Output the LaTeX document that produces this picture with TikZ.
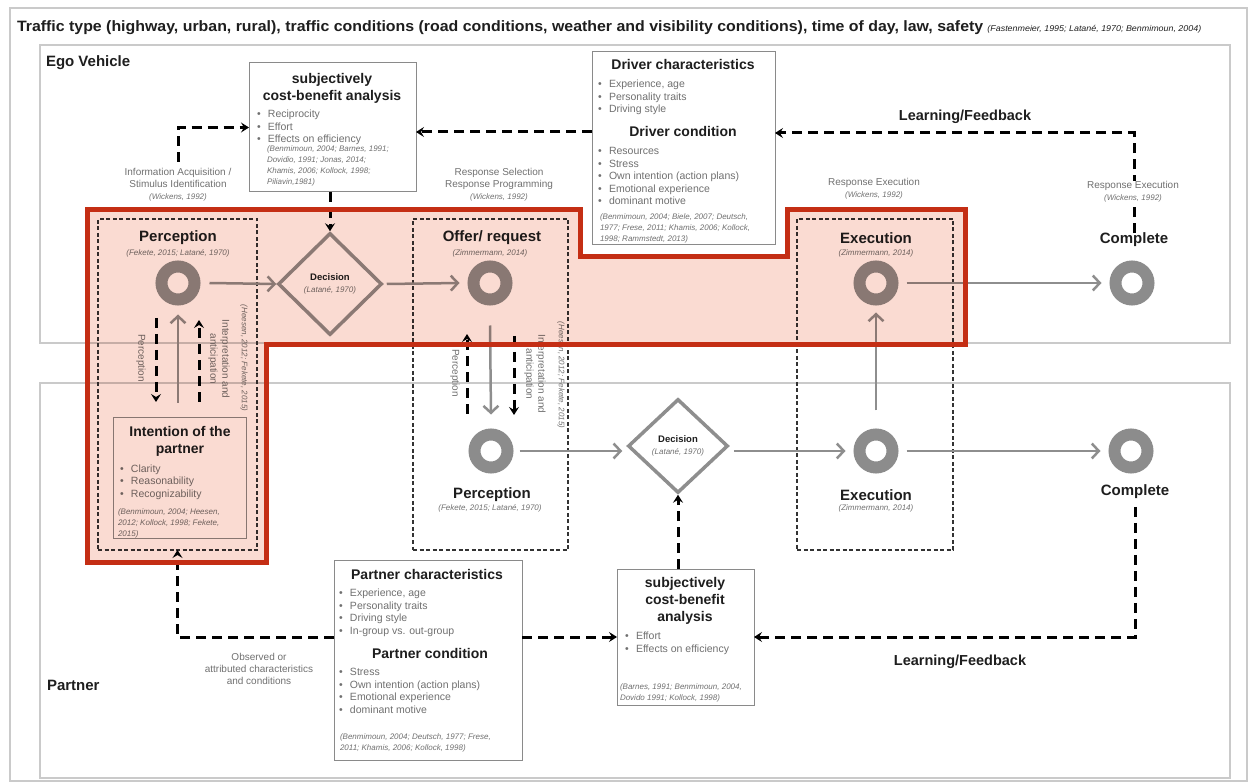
\documentclass[tikz,border=0pt]{standalone}
\usepackage{fontspec}
\setmainfont{Liberation Sans}
\usetikzlibrary{arrows.meta,shapes.geometric}
\definecolor{ringgray}{HTML}{8C8C8C}
\definecolor{linegray}{HTML}{8E8E8E}
\definecolor{txtgray}{HTML}{707070}
\definecolor{framegray}{HTML}{CACACA}
\definecolor{boxgray}{HTML}{8A8A8A}
\definecolor{hlred}{HTML}{C42E14}
\definecolor{hlpink}{HTML}{FADBD2}
\definecolor{ink}{HTML}{1E1E1E}
\newcommand{\fsz}[2]{\fontsize{#1}{#2}\selectfont}
\newcommand{\bl}[1]{\makebox[11pt][l]{\textbullet}#1}
\begin{document}
\begin{tikzpicture}[x=1pt,y=-1pt,
  every node/.style={inner sep=0pt,outer sep=0pt},
  ring/.style={circle,draw=ringgray,line width=12pt,minimum size=33pt,outer sep=6pt},
  decis/.style={diamond,draw=linegray,line width=3.5pt,align=center,outer sep=1.75pt},
  frm/.style={draw=framegray,line width=1.2pt},
  infobox/.style={draw=boxgray,line width=1pt,fill=white,anchor=north west},
  dbox/.style={draw=black!80,line width=1.3pt,dash pattern=on 4pt off 2.5pt,anchor=north west},
  ntitle/.style={font=\fsz{15}{17}\bfseries,text=ink,align=center},
  btitle/.style={font=\fsz{14}{17}\bfseries,text=ink,align=center},
  cite/.style={font=\fsz{8}{11}\itshape,text=txtgray,align=center},
  body/.style={font=\fsz{10.5}{12.5},text=txtgray,align=left,anchor=west},
  lbl/.style={font=\fsz{10}{12},text=txtgray,align=center},
  garrow/.style={draw=linegray,line width=2.5pt,-{Straight Barb[length=7pt,width=15pt]}},
  dline/.style={draw=black,line width=3pt,dash pattern=on 10pt off 6pt},
  dtip/.style={-{Stealth[length=8pt,width=10pt,inset=3pt]}},
  fbtitle/.style={font=\fsz{14.5}{17}\bfseries,text=ink},
]
\useasboundingbox (0,0) rectangle (1253,783);
% frames
\draw[frm] (10,8) rectangle (1247,781);
\draw[frm] (40,45) rectangle (1230,343);
\draw[frm] (40,383) rectangle (1230,778);

% title
\node[anchor=west,text=ink] (title) at (17,28) {\scalebox{1.06}[1]{\fsz{15}{17}\bfseries Traffic type (highway, urban, rural), traffic conditions (road conditions, weather and visibility conditions), time of day, law, safety\hspace{4pt}{\fsz{8.4}{9}\mdseries\itshape (Fastenmeier, 1995; Latané, 1970; Benmimoun, 2004)}}};
\node[anchor=west,font=\fsz{15}{17}\bfseries,text=ink] (egolbl) at (46,63) {Ego Vehicle};
\node[anchor=west,font=\fsz{15}{17}\bfseries,text=ink] (partlbl) at (47,685) {Partner};

% dashed grouping boxes
\node[dbox,minimum width=159pt,minimum height=331pt] (pdb) at (98,219) {};
\node[dbox,minimum width=155pt,minimum height=331pt] (odb) at (413,219) {};
\node[dbox,minimum width=156pt,minimum height=331pt] (edb) at (797,219) {};

% info boxes
\node[infobox,minimum width=167pt,minimum height=129pt] (cbA) at (249,63) {};
\node[infobox,minimum width=183pt,minimum height=193pt] (drv) at (592,52) {};
\node[infobox,minimum width=133pt,minimum height=120pt] (intent) at (113,418) {};
\node[infobox,minimum width=188pt,minimum height=200pt] (pc) at (334,560) {};
\node[infobox,minimum width=137pt,minimum height=136pt] (cbB) at (617,569) {};

% cbA content
\node[btitle] (cbAt) at (332,88) {subjectively\\cost-benefit analysis};
\node[body] (cbAl) at (257,127.5) {\bl{Reciprocity}\\\bl{Effort}\\\bl{Effects on efficiency}};
\node[cite,align=left,anchor=west] (cbAc) at (267,166) {(Benmimoun, 2004; Barnes, 1991;\\Dovidio, 1991; Jonas, 2014;\\Khamis, 2006; Kollock, 1998;\\Piliavin,1981)};

% driver content
\node[btitle] (drvt1) at (683,65) {Driver characteristics};
\node[body] (drvl1) at (598,97.5) {\bl{Experience, age}\\\bl{Personality traits}\\\bl{Driving style}};
\node[btitle] (drvt2) at (683,131) {Driver condition};
\node[body] (drvl2) at (598,176) {\bl{Resources}\\\bl{Stress}\\\bl{Own intention (action plans)}\\\bl{Emotional experience}\\\bl{dominant motive}};
\node[cite,align=left,anchor=west] (drvc) at (600,228) {(Benmimoun, 2004; Biele, 2007; Deutsch,\\1977; Frese, 2011; Khamis, 2006; Kollock,\\1998; Rammstedt, 2013)};

% intention content
\node[btitle] (intt) at (180,441) {Intention of the\\partner};
\node[body] (intl) at (120,482) {\bl{Clarity}\\\bl{Reasonability}\\\bl{Recognizability}};
\node[cite,align=left,anchor=west] (intc) at (118,523) {(Benmimoun, 2004; Heesen,\\2012; Kollock, 1998; Fekete,\\2015)};

% partner content
\node[btitle] (pct1) at (427,574) {Partner characteristics};
\node[body] (pcl1) at (339,613) {\bl{Experience, age}\\\bl{Personality traits}\\\bl{Driving style}\\\bl{In-group vs. out-group}};
\node[btitle] (pct2) at (430,653) {Partner condition};
\node[body] (pcl2) at (339,691) {\bl{Stress}\\\bl{Own intention (action plans)}\\\bl{Emotional experience}\\\bl{dominant motive}};
\node[cite,align=left,anchor=west] (pcc) at (340,743) {(Benmimoun, 2004; Deutsch, 1977; Frese,\\2011; Khamis, 2006; Kollock, 1998)};

% cbB content
\node[btitle] (cbBt) at (685,601) {subjectively\\cost-benefit\\analysis};
\node[body] (cbBl) at (625,643.5) {\bl{Effort}\\\bl{Effects on efficiency}};
\node[cite,align=left,anchor=west] (cbBc) at (620,693) {(Barnes, 1991; Benmimoun, 2004,\\Dovido 1991; Kollock, 1998)};

% stage labels
\node[lbl] (infol) at (178,185) {Information Acquisition /\\Stimulus Identification\\{\fsz{8}{12}\itshape (Wickens, 1992)}};
\node[lbl] (rsel) at (499,185) {Response Selection\\Response Programming\\{\fsz{8}{12}\itshape (Wickens, 1992)}};
\node[lbl] (rex1) at (874,189) {Response Execution\\{\fsz{8}{12}\itshape (Wickens, 1992)}};

% top row
\node[ntitle] (pt1) at (178,238) {Perception};
\node[cite] (pc1) at (178,253) {(Fekete, 2015; Latané, 1970)};
\node[ring] (P1) at (178,283) {};
\node[decis,minimum width=104pt,minimum height=102pt] (D1) at (330,284) {{\color{ink}\fsz{9.5}{11}\bfseries Decision}\\{\color{txtgray}\fsz{8}{11}\itshape (Latané, 1970)}};
\node[ntitle] (ot1) at (492,238) {Offer/ request};
\node[cite] (oc1) at (490,253) {(Zimmermann, 2014)};
\node[ring] (O1) at (490,283) {};
\node[ntitle] (et1) at (876,238) {Execution};
\node[cite] (ec1) at (876,253) {(Zimmermann, 2014)};
\node[ring] (E1) at (876,283) {};
\node[ntitle] (ct1) at (1134,240) {Complete};
\node[ring] (C1) at (1132,283) {};

% bottom row
\node[ring] (P2) at (491,451) {};
\node[ntitle] (pt2) at (492,495) {Perception};
\node[cite] (pc2) at (490,508) {(Fekete, 2015; Latané, 1970)};
\node[decis,minimum width=100pt,minimum height=94pt] (D2) at (678,446) {{\color{ink}\fsz{9.5}{11}\bfseries Decision}\\{\color{txtgray}\fsz{8}{11}\itshape (Latané, 1970)}};
\node[ring] (E2) at (876,451) {};
\node[ntitle] (et2) at (876,495) {Execution};
\node[cite] (ec2) at (876,508) {(Zimmermann, 2014)};
\node[ring] (C2) at (1131,451) {};
\node[ntitle] (ct2) at (1135,492) {Complete};

% rotated labels
\node[lbl,rotate=-90] (lp1) at (141,358) {Perception};
\node[lbl,rotate=-90] (li1) at (219,359) {Interpretation and\\anticipation};
\node[cite,rotate=-90] (lh1) at (244,358) {(Heesen, 2012; Fekete, 2015)};
\node[lbl,rotate=-90] (lp2) at (455,373) {Perception};
\node[lbl,rotate=-90] (li2) at (535,374) {Interpretation and\\anticipation};
\node[cite,rotate=-90] (lh2) at (561,375) {(Heesen, 2012; Fekete, 2015)};

% other labels
\node[fbtitle] (lf1) at (965,117) {Learning/Feedback};
\node[fbtitle] (lf2) at (960,662) {Learning/Feedback};
\node[lbl] (obs) at (259,669) {Observed or\\attributed characteristics\\and conditions};

% gray solid arrows
\draw[garrow] ([xshift=9pt]P1.east) -- (D1.west);
\draw[garrow] ([xshift=3pt]D1.east) -- ([xshift=-8pt]O1.west);
\draw[garrow] ([xshift=8pt]E1.east) -- ([xshift=-8pt]C1.west);
\draw[garrow] ([xshift=6pt]P2.east) -- ([xshift=-4pt]P2.east -| D2.west);
\draw[garrow] ([xshift=4pt]E2.west -| D2.east) -- ([xshift=-8pt]E2.west);
\draw[garrow] ([xshift=8pt]E2.east) -- ([xshift=-8pt]C2.west);
\draw[garrow] ([yshift=18pt]E2.north) -- ([yshift=-7pt]E1.south);
\coordinate (sL) at (178,403);
\draw[garrow] (sL) -- ([yshift=-9pt]P1.south);
\draw[garrow] ([yshift=-20pt]O1.south) -- ([yshift=14pt]P2.north);

% dashed vertical arrows
\coordinate (dLa) at (156,318); \coordinate (dLb) at (156,402);
\coordinate (dRa) at (199,402); \coordinate (dRb) at (199,320);
\coordinate (mLa) at (467,414); \coordinate (mLb) at (467,334);
\coordinate (mRa) at (514,336); \coordinate (mRb) at (514,415);
\draw[dline,dtip] (dLa) -- (dLb);
\draw[dline,dtip] (dRa) -- (dRb);
\draw[dline,dtip] (mLa) -- (mLb);
\draw[dline,dtip] (mRa) -- (mRb);

% dashed feedback connectors
\coordinate (iaTop) at (178,162);
\draw[dline,dtip] (iaTop) |- (cbA.west);
\draw[dline,dtip] (drv.west |- 0,132) -- (cbA.east |- 0,132);
\draw[dline,dtip] (ct1.north) |- (drv.east |- 0,133);
\draw[dline,dtip] (D1.north |- cbA.south) -- (D1.north);
\draw[dline,dtip] (pc.west |- 0,637) -| (pdb.south);
\draw[dline,dtip] (pc.east |- 0,637) -- (cbB.west);
\draw[dline,dtip] (D2.south |- cbB.north) -- (D2.south);
\draw[dline,dtip] ([yshift=-8pt]ct2.south) |- (cbB.east);
\node[lbl,fill=white,inner sep=1pt] (rex2) at (1133,192) {Response Execution\\{\fsz{8}{12}\itshape (Wickens, 1992)}};

% highlight region
\begin{scope}[blend mode=multiply]
\fill[hlpink] (87,210) -- (580,210) -- (580,257) -- (787,257) -- (787,210) -- (965,210) -- (965,345) -- (266,345) -- (266,562) -- (87,562) -- cycle;
\end{scope}
\draw[hlred,line width=5pt,line join=miter] (87,210) -- (580,210) -- (580,257) -- (787,257) -- (787,210) -- (965,210) -- (965,345) -- (266,345) -- (266,562) -- (87,562) -- cycle;
\end{tikzpicture}
\end{document}
